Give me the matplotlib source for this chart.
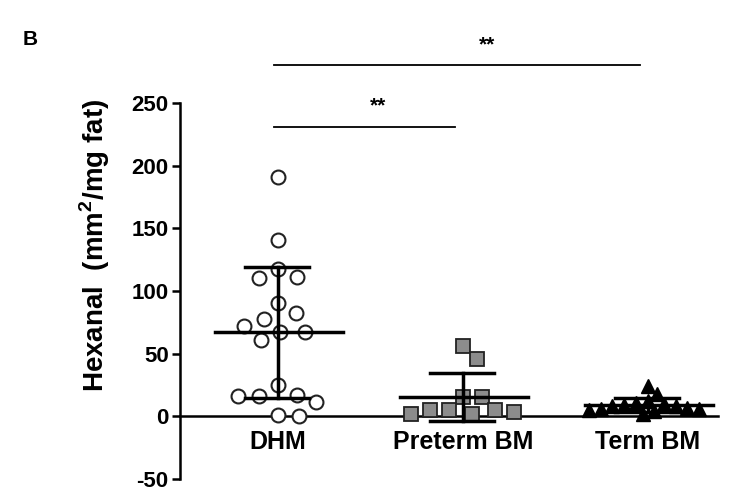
import numpy as np
import matplotlib
matplotlib.use('Agg')
import matplotlib.pyplot as plt

plt.rcParams['font.family'] = ['Liberation Sans', 'DejaVu Sans']
plt.rcParams['font.weight'] = 'bold'
plt.rcParams['axes.unicode_minus'] = False
plt.rcParams['mathtext.fontset'] = 'custom'
plt.rcParams['mathtext.bf'] = 'Liberation Sans:bold'

# values
groups = ['DHM', 'Preterm BM', 'Term BM']
dhm = [190.7, 140.8, 117.7, 111.0, 110.5, 90.3, 82.3, 77.8, 72.5, 67.2, 67.2,
       60.6, 24.7, 17.3, 16.7, 16.7, 11.4, 1.3, 0.3]
preterm = [56, 46, 15.4, 15.4, 5.3, 4.8, 4.8, 3.4, 2.1, 2.1]
term = [24, 18, 12, 11, 10, 9, 8, 8, 7, 6, 6, 5, 4, 2]
yticks = [-50, 0, 50, 100, 150, 200, 250]
sig_pairs = [(0, 1), (0, 2)]
sig_text = ['**', '**']

fig = plt.figure(figsize=(7.4, 4.95), dpi=100)
ax = fig.add_axes([0.243, 0.032, 0.73, 0.760])
ax.set_xlim(-0.53, 2.39)
ax.set_ylim(-50, 250)


def swarm(vals, d_px):
    # simple beeswarm in pixel space, returns x offsets in data units
    p0 = ax.transData.transform((0, 0))
    p1 = ax.transData.transform((1, 1))
    sx, sy = p1[0] - p0[0], p1[1] - p0[1]
    ys = np.array(vals) * sy
    placed = []
    out = []
    for y in ys:
        cands = [0.0]
        for (px, py) in placed:
            dy = abs(y - py)
            if dy < d_px:
                dx = np.sqrt(d_px ** 2 - dy ** 2)
                cands += [px + dx, px - dx]
        cands.sort(key=abs)
        for c in cands:
            if all((c - px) ** 2 + (y - py) ** 2 >= d_px ** 2 - 1e-6 for px, py in placed):
                placed.append((c, y))
                out.append(c / sx)
                break
    return np.array(out)


styles = [dict(marker='o', mfc='white', mec='#222222', ms=10, mew=1.5, d=21),
          dict(marker='s', mfc='#8c8c8c', mec='#222222', ms=10.5, mew=1.3, d=19),
          dict(marker='^', mfc='black', mec='black', ms=9.5, mew=1, d=12)]

for i, (vals, st) in enumerate(zip([dhm, preterm, term], styles)):
    dx = swarm(vals, st['d'])
    ax.plot(i + dx, vals, ls='none', marker=st['marker'], mfc=st['mfc'],
            mec=st['mec'], ms=st['ms'], mew=st['mew'], zorder=3)
    m = np.mean(vals)
    s = np.std(vals, ddof=1)
    ax.plot([i - 0.34, i + 0.35], [m, m], color='black', lw=2.5, zorder=4)
    ax.plot([i, i], [m - s, m + s], color='black', lw=2.5, zorder=4)
    ax.plot([i - 0.18, i + 0.17], [m + s, m + s], color='black', lw=2.5, zorder=4)
    ax.plot([i - 0.18, i + 0.17], [m - s, m - s], color='black', lw=2.5, zorder=4)

# significance bars
sig_y = [231, 280]
sig_tx = [0.54, 1.13]
for (a, b), t, y, tx in zip(sig_pairs, sig_text, sig_y, sig_tx):
    ax.plot([a - 0.02, b - 0.04], [y, y], color='black', lw=1.3, clip_on=False)
    ax.text(tx, y + 9, t, ha='center', va='bottom', fontsize=15, fontweight='bold')

for sp in ['top', 'right']:
    ax.spines[sp].set_visible(False)
ax.spines['left'].set_linewidth(1.8)
ax.spines['bottom'].set_position(('data', 0))
ax.spines['bottom'].set_linewidth(1.8)
ax.spines['bottom'].set_bounds(-0.53, 2.38)

ax.set_yticks(yticks)
ax.set_xticks(range(len(groups)))
ax.set_xticklabels(groups)
ax.tick_params(axis='y', length=6, width=1.8, labelsize=16, pad=2)
ax.tick_params(axis='x', length=0, labelsize=18, pad=10)
ax.set_ylabel('Hexanal  (mm$^\\mathbf{2}$/mg fat)', fontsize=20,
              fontweight='bold')
ax.yaxis.set_label_coords(-0.125, 0.62)

fig.text(0.03, 0.91, 'B', fontsize=15, fontweight='bold')

fig.savefig('out.png', dpi=100)
